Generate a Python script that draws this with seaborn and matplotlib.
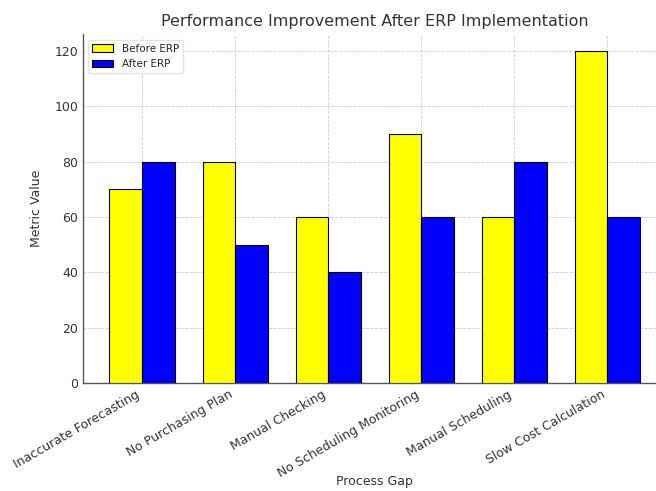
import matplotlib
matplotlib.use("Agg")
import matplotlib.pyplot as plt
import seaborn as sns
import pandas as pd

categories = ["Inaccurate Forecasting", "No Purchasing Plan", "Manual Checking",
              "No Scheduling Monitoring", "Manual Scheduling", "Slow Cost Calculation"]
before_erp = [70, 80, 60, 90, 60, 120]
after_erp = [80, 50, 40, 60, 80, 60]
series_names = ["Before ERP", "After ERP"]
series_colors = ["#ffff00", "#0000ff"]

df = pd.DataFrame({
    "Process Gap": categories * 2,
    "Metric Value": before_erp + after_erp,
    "Series": [series_names[0]] * len(categories) + [series_names[1]] * len(categories),
})

sns.set_style("white")
plt.rcParams["font.family"] = ["DejaVu Sans"]
text_color = "#333333"

fig = plt.figure(figsize=(6.56, 4.91), dpi=100)
ax = fig.add_axes([0.1265, 0.22, 0.889, 0.71])

sns.barplot(data=df, x="Process Gap", y="Metric Value", hue="Series",
            palette=series_colors, width=0.7, edgecolor="black", linewidth=0.8,
            saturation=1, ax=ax, zorder=3)

ax.set_xlim(-0.635, len(categories) - 1 + 0.635)
ax.set_ylim(0, 126)
ax.set_yticks([0, 20, 40, 60, 80, 100, 120])

ax.grid(True, linestyle="--", color="#cccccc", linewidth=0.6, zorder=0)
ax.set_axisbelow(True)

for side in ["top", "right"]:
    ax.spines[side].set_visible(False)
for side in ["left", "bottom"]:
    ax.spines[side].set_color("#555555")
    ax.spines[side].set_linewidth(1.0)

ax.tick_params(axis="both", labelsize=9, colors=text_color, direction="in", length=3)
plt.setp(ax.get_xticklabels(), rotation=30, ha="right", rotation_mode="default")

ax.set_title("Performance Improvement After ERP Implementation", fontsize=11.5,
             color=text_color, pad=6)
ax.set_ylabel("Metric Value", fontsize=9, color=text_color, labelpad=8)
ax.set_xlabel("Process Gap", fontsize=9, color=text_color, labelpad=-3)

leg = ax.legend(loc="upper left", fontsize=7.5, frameon=True, fancybox=True,
                edgecolor="#dddddd", title=None)

fig.savefig("out.png", dpi=100)
